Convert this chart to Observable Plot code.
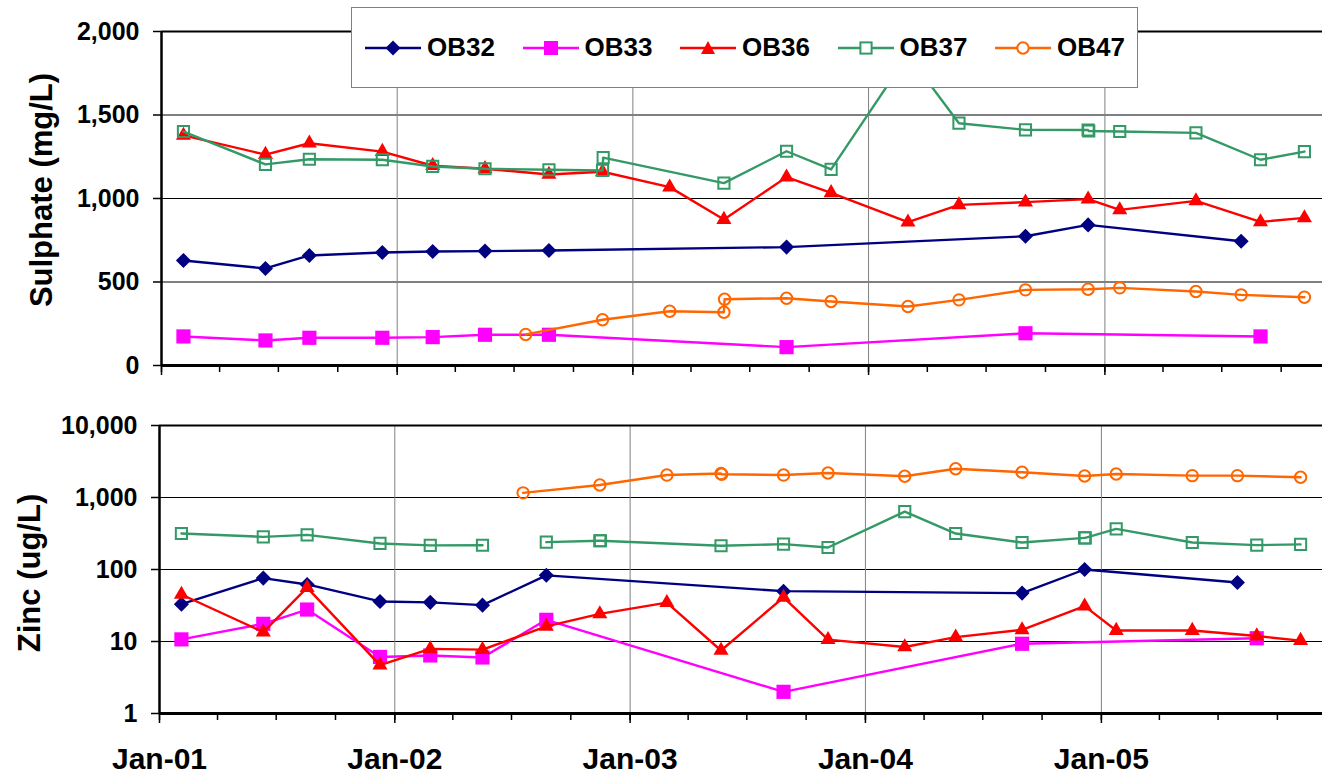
<!DOCTYPE html>
<html>
<head>
<meta charset="utf-8">
<script src="https://cdn.jsdelivr.net/npm/d3@7"></script>
<script src="https://cdn.jsdelivr.net/npm/@observablehq/plot@0.6"></script>
<style>
  html, body { margin: 0; padding: 0; background: #fff; }
  #chart { position: relative; width: 1322px; height: 775px; overflow: hidden;
           font-family: Arial, "Liberation Sans", sans-serif; color: #000; }
  #chart > svg { position: absolute; left: 0; }
  .ytitle { position: absolute; font-weight: bold; font-size: 31px; line-height: 1;
            white-space: nowrap; transform: translate(-50%, -50%) rotate(-90deg); }
  #legend { position: absolute; left: 351px; top: 7px; width: 787px; height: 81px;
            background: #fff; border: 1.5px solid #808080; box-sizing: border-box; }
  .item { position: absolute; top: 0; height: 100%; display: flex; align-items: center; }
  .item span { font-weight: bold; font-size: 26px; margin-left: 6px; }
</style>
</head>
<body>
<div id="chart"></div>
<script>
// Monitoring wells and their sampling records
const wells = ["OB32", "OB33", "OB36", "OB37", "OB47"];

const ob32Dates = ["2001-02-04", "2001-06-11", "2001-08-18", "2001-12-09", "2002-02-25", "2002-05-17",
                   "2002-08-24", "2003-08-27", "2004-08-31", "2004-12-06", "2005-07-31"];
const ob32Sulphate = [629, 581, 659, 677, 683, 685, 689, 709, 774, 842, 744];
const ob32Zinc = [33, 76, 62, 36, 35, 32, 83, 50, 47, 100, 66];

const ob33Dates = ["2001-02-04", "2001-06-11", "2001-08-18", "2001-12-09", "2002-02-25", "2002-05-17",
                   "2002-08-24", "2003-08-27", "2004-08-31", "2005-08-30"];
const ob33Sulphate = [174, 150, 166, 166, 170, 184, 184, 110, 193, 174];
const ob33Zinc = [10.7, 17.6, 27.8, 6.1, 6.4, 6.0, 20, 2.0, 9.3, 11.1];

const ob36Dates = ["2001-02-04", "2001-06-11", "2001-08-18", "2001-12-09", "2002-02-25", "2002-05-17",
                   "2002-08-24", "2002-11-15", "2003-02-27", "2003-05-22", "2003-08-27", "2003-11-04",
                   "2004-03-02", "2004-05-20", "2004-08-31", "2004-12-06", "2005-01-24", "2005-05-22",
                   "2005-08-30", "2005-11-06"];
const ob36Sulphate = [1378, 1263, 1331, 1281, 1196, 1178, 1144, 1160, 1068, 874, 1128, 1034,
                      858, 962, 978, 996, 932, 986, 860, 884];
const ob36Zinc = [45, 13.5, 56, 4.7, 7.9, 7.7, 16.2, 24.2, 34.7, 7.5, 41, 10.6,
                  8.4, 11.5, 14.5, 31, 14.2, 14.2, 11.9, 10.3];

// null = no result for that sample
const ob37Dates = ["2001-02-04", "2001-06-11", "2001-08-18", "2001-12-09", "2002-02-25", "2002-05-17",
                   "2002-07-19", "2002-08-24", "2002-11-15", "2002-11-16", "2003-05-22", "2003-08-27",
                   "2003-11-04", "2004-03-02", "2004-05-20", "2004-08-31", "2004-12-06", "2004-12-07",
                   "2005-01-24", "2005-05-22", "2005-08-30", "2005-11-06"];
const ob37Sulphate = [1401, 1204, 1235, 1232, 1192, 1178, null, 1172, 1168, 1245, 1092, 1283,
                      1174, 1860, 1451, 1411, 1410, 1404, 1401, 1393, 1232, 1281];
const ob37Zinc = [316, 284, 303, 230, 216, 217, null, 240, 251, 251, 214, 225,
                  202, 637, 316, 237, 275, 275, 367, 237, 218, 223];

const ob47Dates = ["2002-07-19", "2002-11-15", "2003-02-27", "2003-05-22", "2003-05-23", "2003-08-27",
                   "2003-11-04", "2004-03-02", "2004-05-20", "2004-08-31", "2004-12-06", "2005-01-24",
                   "2005-05-22", "2005-07-31", "2005-11-06"];
const ob47Sulphate = [186, 274, 325, 319, 397, 403, 383, 353, 393, 453, 457, 465, 443, 423, 409];
const ob47Zinc = [1160, 1490, 2050, 2150, 2100, 2050, 2190, 1970, 2510, 2240, 1990, 2120, 2010, 2010, 1910];

// Axis ticks
const sulphateTicks = [0, 500, 1000, 1500, 2000];
const zincTicks = [1, 10, 100, 1000, 10000];
const yearTicks = ["2001-01-01", "2002-01-01", "2003-01-01", "2004-01-01", "2005-01-01"];

// Series appearance
const colors = ["#000080", "#FF00FF", "#FF0000", "#339966", "#FF6600"];
const markers = [
  {symbol: "diamond2", r: 6.8, hollow: false},
  {symbol: "square", r: 8.0, hollow: false},
  {symbol: "triangle", r: 5.6, hollow: false},
  {symbol: "square", r: 6.3, hollow: true},
  {symbol: "circle", r: 5.7, hollow: true}
];

const records = [
  [ob32Dates, ob32Sulphate, ob32Zinc],
  [ob33Dates, ob33Sulphate, ob33Zinc],
  [ob36Dates, ob36Sulphate, ob36Zinc],
  [ob37Dates, ob37Sulphate, ob37Zinc],
  [ob47Dates, ob47Sulphate, ob47Zinc]
];
const samples = records.flatMap(([dates, so4, zn], i) =>
  dates.map((d, j) => ({well: wells[i], date: new Date(d), sulphate: so4[j], zinc: zn[j]})));

const years = yearTicks.map(d => new Date(d));
const quarters = d3.utcMonth.every(3).range(new Date("2001-01-01"), new Date("2006-01-01"));
const start = years[0];

const fontFamily = 'Arial, "Liberation Sans", sans-serif';
const plotStyle = {background: "transparent", color: "#000", fontFamily, overflow: "visible"};

// Line + marker marks for one measured field; the upper chart joins across
// missing results, the lower one leaves a gap.
function seriesMarks(field, joinGaps) {
  return wells.flatMap((w, i) => {
    const rows = samples.filter(d => d.well === w);
    const measured = rows.filter(d => d[field] != null);
    const m = markers[i];
    return [
      Plot.line(joinGaps ? measured : rows, {x: "date", y: field, stroke: colors[i], strokeWidth: 2.4}),
      Plot.dot(measured, {
        x: "date", y: field, symbol: m.symbol, r: m.r,
        fill: m.hollow ? "none" : colors[i],
        stroke: m.hollow ? colors[i] : "none",
        strokeWidth: 2
      })
    ];
  });
}

const upper = Plot.plot({
  width: 1322, height: 395,
  marginTop: 31, marginBottom: 30, marginLeft: 161, marginRight: 0,
  x: {type: "utc", domain: [start, new Date("2005-12-04")]},
  y: {domain: [0, 2000]},
  style: plotStyle,
  marks: [
    Plot.gridY({ticks: sulphateTicks.slice(1, -1), stroke: "#000", strokeOpacity: 1, strokeWidth: 1}),
    Plot.gridX({ticks: years.slice(1), stroke: "#808080", strokeOpacity: 1, strokeWidth: 1}),
    Plot.ruleY([2000], {stroke: "#000", strokeWidth: 2}),
    Plot.ruleX([start], {stroke: "#000", strokeWidth: 2.5}),
    Plot.ruleY([0], {stroke: "#000", strokeWidth: 3}),
    Plot.axisY({ticks: sulphateTicks, tickFormat: d3.format(","), tickSize: 8, tickPadding: 14,
                fontSize: 25, fontWeight: "bold", strokeWidth: 1.5, label: null}),
    Plot.axisX({ticks: quarters, tickSize: 7, tickFormat: () => "", strokeWidth: 1.5, label: null}),
    Plot.axisX({ticks: years, tickSize: 10, tickFormat: () => "", strokeWidth: 1.5, label: null}),
    ...seriesMarks("sulphate", true)
  ]
});
upper.style.top = "0px";

const lower = Plot.plot({
  width: 1322, height: 375,
  marginTop: 25, marginBottom: 62, marginLeft: 159, marginRight: 0,
  x: {type: "utc", domain: [start, new Date("2005-12-10")]},
  y: {type: "log", domain: [1, 10000]},
  style: plotStyle,
  marks: [
    Plot.gridY({ticks: zincTicks.slice(1, -1), stroke: "#000", strokeOpacity: 1, strokeWidth: 1}),
    Plot.gridX({ticks: years.slice(1), stroke: "#808080", strokeOpacity: 1, strokeWidth: 1}),
    Plot.ruleY([10000], {stroke: "#000", strokeWidth: 2}),
    Plot.ruleX([start], {stroke: "#000", strokeWidth: 2.5}),
    Plot.ruleY([1], {stroke: "#000", strokeWidth: 3}),
    Plot.axisY({ticks: zincTicks, tickFormat: d3.format(","), tickSize: 8, tickPadding: 14,
                fontSize: 25, fontWeight: "bold", strokeWidth: 1.5, label: null}),
    Plot.axisX({ticks: quarters, tickSize: 7, tickFormat: () => "", strokeWidth: 1.5, label: null}),
    Plot.axisX({ticks: years, tickSize: 10, tickPadding: 24, tickFormat: d3.utcFormat("%b-%y"),
                fontSize: 30, fontWeight: "bold", strokeWidth: 1.5, label: null}),
    ...seriesMarks("zinc", false)
  ]
});
lower.style.top = "400px";

const chart = document.getElementById("chart");
chart.append(upper, lower);

// Rotated axis titles
for (const [text, x, y] of [["Sulphate (mg/L)", 40.7, 189.5], ["Zinc (ug/L)", 29, 572.5]]) {
  const t = document.createElement("div");
  t.className = "ytitle";
  t.textContent = text;
  t.style.left = x + "px";
  t.style.top = y + "px";
  chart.append(t);
}

// Legend box with line-and-marker swatches
const legend = document.createElement("div");
legend.id = "legend";
const swatch = (i) => {
  const c = colors[i];
  const shapes = [
    `<polygon points="28,2.5 35.5,10 28,17.5 20.5,10" fill="${c}"/>`,
    `<rect x="21" y="3" width="14" height="14" fill="${c}"/>`,
    `<polygon points="28,3 35,16 21,16" fill="${c}"/>`,
    `<rect x="22.4" y="4.4" width="11.2" height="11.2" fill="#fff" stroke="${c}" stroke-width="2"/>`,
    `<circle cx="28" cy="10" r="5.7" fill="#fff" stroke="${c}" stroke-width="2"/>`
  ];
  return `<svg width="56" height="20" viewBox="0 0 56 20"><line x1="0" y1="10" x2="56" y2="10" stroke="${c}" stroke-width="2.4"/>${shapes[i]}</svg>`;
};
wells.forEach((w, i) => {
  const item = document.createElement("div");
  item.className = "item";
  item.style.left = (13 + i * 157.5) + "px";
  item.innerHTML = swatch(i) + `<span>${w}</span>`;
  legend.append(item);
});
chart.append(legend);
</script>
</body>
</html>
